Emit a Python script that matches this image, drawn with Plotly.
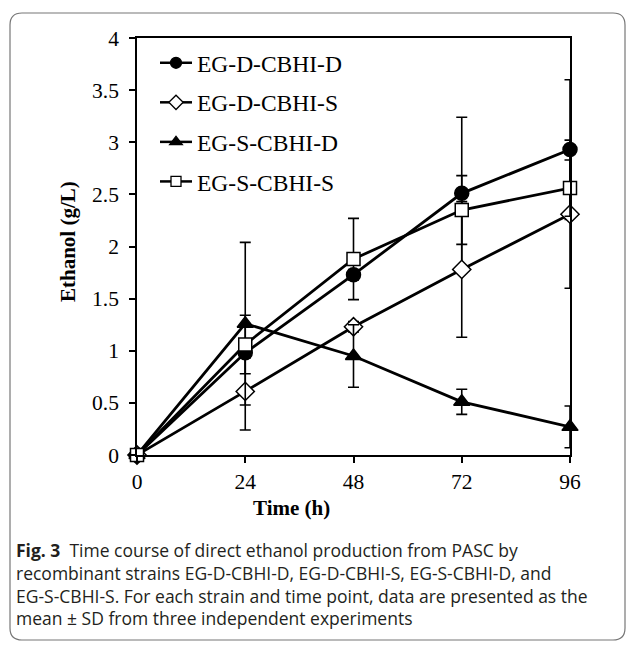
import plotly.graph_objects as go

# ---- data ----
time_h = [0, 24, 48, 72, 96]
series_names = ["EG-D-CBHI-D", "EG-D-CBHI-S", "EG-S-CBHI-D", "EG-S-CBHI-S"]
eg_d_cbhi_d = [0, 0.98, 1.73, 2.51, 2.93]
eg_d_cbhi_d_sd = [0, 0.05, 0.05, 0.73, 0.67]
eg_d_cbhi_s = [0, 0.61, 1.23, 1.78, 2.31]
eg_d_cbhi_s_sd = [0, 0.37, 0.05, 0.65, 0.71]
eg_s_cbhi_d = [0, 1.26, 0.95, 0.51, 0.27]
eg_s_cbhi_d_sd = [0, 0.78, 0.30, 0.12, 0.20]
eg_s_cbhi_s = [0, 1.06, 1.88, 2.35, 2.56]
eg_s_cbhi_s_sd = [0, 0.28, 0.39, 0.33, 0.27]
x_ticks = [0, 24, 48, 72, 96]
y_ticks = [0, 0.5, 1, 1.5, 2, 2.5, 3, 3.5, 4]
y_tick_labels = ["0", "0.5", "1", "1.5", "2", "2.5", "3", "3.5", "4"]
caption_lines = [
    "<b>Fig. 3</b>  Time course of direct ethanol production from PASC by",
    "recombinant strains EG-D-CBHI-D, EG-D-CBHI-S, EG-S-CBHI-D, and",
    "EG-S-CBHI-S. For each strain and time point, data are presented as the",
    "mean \u00b1 SD from three independent experiments",
]

values = [eg_d_cbhi_d, eg_d_cbhi_s, eg_s_cbhi_d, eg_s_cbhi_s]
errors = [eg_d_cbhi_d_sd, eg_d_cbhi_s_sd, eg_s_cbhi_d_sd, eg_s_cbhi_s_sd]
symbols = ["circle", "diamond", "triangle-up", "square"]
sizes = [14, 14, 14, 13]
legend_sizes = [11, 11, 11, 10]
fills = ["black", "white", "black", "white"]

SERIF = "Liberation Serif, Times New Roman, serif"

fig = go.Figure()
for i, name in enumerate(series_names):
    fig.add_trace(go.Scatter(
        x=time_h, y=values[i], name=name, mode="lines+markers",
        showlegend=False,
        line=dict(color="black", width=2.8),
        marker=dict(symbol=symbols[i], size=sizes[i], color=fills[i],
                    line=dict(color="black", width=1.5)),
        error_y=dict(type="data", array=errors[i], visible=True,
                     color="black", thickness=1.6, width=5.5),
        cliponaxis=False,
    ))
# legend entries (no data, legend only)
for i, name in enumerate(series_names):
    fig.add_trace(go.Scatter(
        x=[None], y=[None], name=name, mode="lines+markers",
        legendgroup=name,
        line=dict(color="black", width=2.5),
        marker=dict(symbol=symbols[i], size=legend_sizes[i], color=fills[i],
                    line=dict(color="black", width=1.3)),
    ))

W, H = 630, 645
L, R, T, B = 137, 60, 38, 190
pw, ph = W - L - R, H - T - B

def px(X):
    return (X - L) / pw

def py(Y):
    return (H - B - Y) / ph

fig.update_layout(
    width=W, height=H,
    margin=dict(l=L, r=R, t=T, b=B, pad=0),
    paper_bgcolor="white", plot_bgcolor="white",
    showlegend=True,
    legend=dict(x=px(155), y=py(41), xanchor="left", yanchor="top",
                font=dict(family=SERIF, size=23.5, color="black"),
                bgcolor="rgba(0,0,0,0)", tracegroupgap=6, itemwidth=32,
                itemclick=False),
    xaxis=dict(range=[0, 96], tickvals=x_ticks, ticks="outside", ticklen=6,
               tickwidth=1.5, tickcolor="black", showline=True,
               linecolor="black", linewidth=1.5, mirror=True,
               showgrid=False, zeroline=False,
               tickfont=dict(family=SERIF, size=21.5, color="black")),
    yaxis=dict(range=[0, 4], tickvals=y_ticks, ticktext=y_tick_labels,
               ticks="outside", ticklen=6, tickwidth=1.5, tickcolor="black",
               showline=True, linecolor="black", linewidth=1.5, mirror=True,
               showgrid=False, zeroline=False, ticklabelstandoff=6,
               tickfont=dict(family=SERIF, size=21.5, color="black")),
)

annotations = [
    dict(text="<b>Time (h)</b>", x=px(291), y=py(508), xref="paper",
         yref="paper", showarrow=False, xanchor="center", yanchor="middle",
         font=dict(family=SERIF, size=21, color="black")),
    dict(text="<b>Ethanol (g/L)</b>", x=px(68), y=py(242), xref="paper",
         yref="paper", showarrow=False, xanchor="center", yanchor="middle",
         textangle=-90, font=dict(family=SERIF, size=21, color="black")),
    dict(text="<br>".join(caption_lines), x=px(14), y=py(536), xref="paper",
         yref="paper", showarrow=False, xanchor="left", yanchor="top",
         align="left",
         font=dict(family="Open Sans, sans-serif", size=17.5, color="#231f20")),
]
fig.update_layout(annotations=annotations)

# rounded outer frame
x0, x1, y0, y1 = px(10), px(625), py(640), py(13)
rx, ry = 12 / pw, 12 / ph
path = (f"M {x0+rx},{y1} L {x1-rx},{y1} Q {x1},{y1} {x1},{y1-ry} "
        f"L {x1},{y0+ry} Q {x1},{y0} {x1-rx},{y0} L {x0+rx},{y0} "
        f"Q {x0},{y0} {x0},{y0+ry} L {x0},{y1-ry} Q {x0},{y1} {x0+rx},{y1} Z")
fig.add_shape(type="path", path=path, xref="paper", yref="paper",
              line=dict(color="#777", width=1.2), layer="below")

fig.write_html("out.html")
